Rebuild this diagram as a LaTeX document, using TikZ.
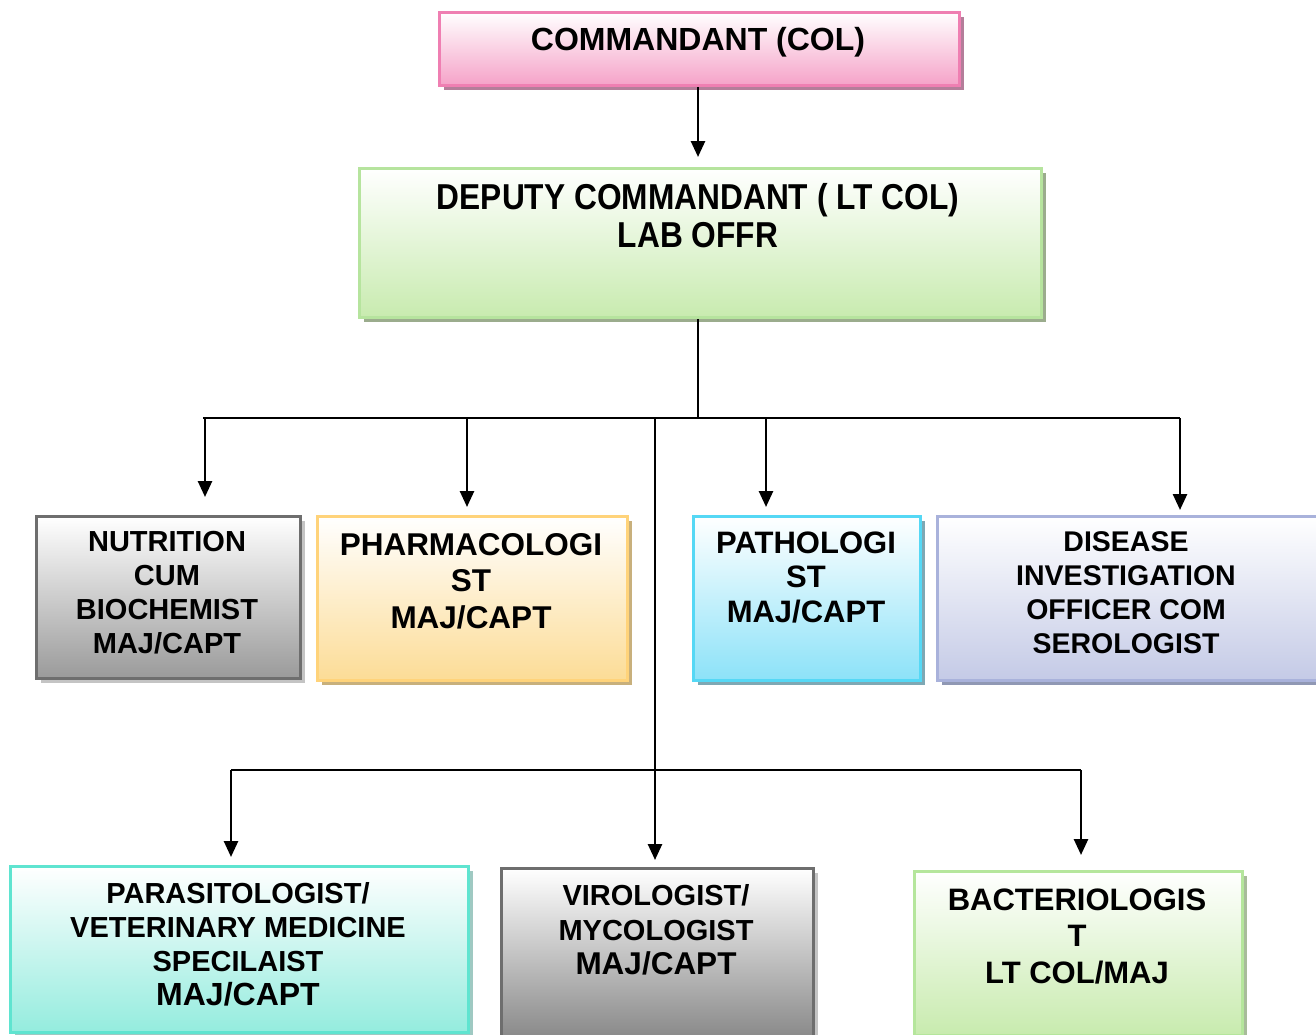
\documentclass[tikz,border=0pt]{standalone}
\usepackage{fontspec}
\setmainfont{Liberation Sans}
\newfontfamily\condfont{Liberation Sans}[FakeStretch=0.88]
\usetikzlibrary{arrows.meta,shadows}

\tikzset{
  orgbox/.style n args={3}{draw=#1, line width=2.8pt, top color=white, bottom color=#2,
    drop shadow={shadow xshift=4.5pt, shadow yshift=-4.5pt, fill=#3, opacity=1},
    inner sep=0pt, anchor=north west},
  lbl/.style={align=center, inner sep=0pt},
  conn/.style={line width=2pt, black},
  arr/.style={line width=2.6pt, black, -{Triangle[length=16pt,width=14pt]}},
}
\definecolor{cmdB}{HTML}{EF7FB2}\definecolor{cmdF}{HTML}{F5A2C8}\definecolor{cmdS}{HTML}{B47E9A}
\definecolor{depB}{HTML}{B6E49E}\definecolor{depF}{HTML}{C8EBAF}\definecolor{depS}{HTML}{9BAC8D}
\definecolor{nutB}{HTML}{6E6E6E}\definecolor{nutF}{HTML}{9A9A9A}\definecolor{nutS}{HTML}{C4C4C4}
\definecolor{phaB}{HTML}{FFD37A}\definecolor{phaF}{HTML}{FCDC96}\definecolor{phaS}{HTML}{C8B07C}
\definecolor{patB}{HTML}{55D8F5}\definecolor{patF}{HTML}{8CE2F8}\definecolor{patS}{HTML}{7EA8B4}
\definecolor{disB}{HTML}{A9B2DB}\definecolor{disF}{HTML}{C4CAE6}\definecolor{disS}{HTML}{9098B4}
\definecolor{parB}{HTML}{5FE4D0}\definecolor{parF}{HTML}{94ECDE}\definecolor{parS}{HTML}{9FC9C2}
\definecolor{virB}{HTML}{6E6E6E}\definecolor{virF}{HTML}{8A8A8A}\definecolor{virS}{HTML}{C4C4C4}
\definecolor{bacB}{HTML}{B5E69C}\definecolor{bacF}{HTML}{C8EBAE}\definecolor{bacS}{HTML}{A8BC9A}

\begin{document}
\begin{tikzpicture}[x=1pt,y=-1pt]
\useasboundingbox[fill=white] (0,0) rectangle (1316,1034);

% boxes
\node[orgbox={cmdB}{cmdF}{cmdS}, minimum width=520pt, minimum height=73pt] (cmd) at (438,11) {};
\node[orgbox={depB}{depF}{depS}, minimum width=682pt, minimum height=149pt] (dep) at (358,167) {};
\node[orgbox={nutB}{nutF}{nutS}, minimum width=264pt, minimum height=162pt] (nut) at (35,515) {};
\node[orgbox={phaB}{phaF}{phaS}, minimum width=310pt, minimum height=164pt] (pha) at (316,515) {};
\node[orgbox={patB}{patF}{patS}, minimum width=227pt, minimum height=164pt] (pat) at (692,515) {};
\node[orgbox={disB}{disF}{disS}, minimum width=384pt, minimum height=164pt] (dis) at (936,515) {};
\node[orgbox={parB}{parF}{parS}, minimum width=458pt, minimum height=166pt] (par) at (9,865) {};
\node[orgbox={virB}{virF}{virS}, minimum width=312pt, minimum height=168pt] (vir) at (500,867) {};
\node[orgbox={bacB}{bacF}{bacS}, minimum width=328pt, minimum height=164pt] (bac) at (913,870) {};

% labels
\node[lbl, font=\bfseries\fontsize{32}{38}\selectfont] (cmdT) at (698,42) {COMMANDANT (COL)};
\node[lbl, font=\condfont\bfseries\fontsize{36}{38}\selectfont] (depT) at (698,216) {DEPUTY COMMANDANT ( LT COL)\\LAB OFFR};
\node[lbl, font=\bfseries\fontsize{29}{34}\selectfont] (nutT) at (167,593) {NUTRITION\\CUM\\BIOCHEMIST\\MAJ/CAPT};
\node[lbl, font=\bfseries\fontsize{31.5}{36.5}\selectfont] (phaT) at (471,581) {PHARMACOLOGI\\ST\\MAJ/CAPT};
\node[lbl, font=\bfseries\fontsize{31}{34.5}\selectfont] (patT) at (806,577) {PATHOLOGI\\ST\\MAJ/CAPT};
\node[lbl, font=\bfseries\fontsize{28.5}{34}\selectfont] (disT) at (1126,593) {DISEASE\\INVESTIGATION\\OFFICER COM\\SEROLOGIST};
\node[lbl, font=\bfseries\fontsize{29}{34}\selectfont] (parT) at (238,944) {PARASITOLOGIST/\\VETERINARY MEDICINE\\SPECILAIST\\{\fontsize{32}{34}\selectfont MAJ/CAPT}};
\node[lbl, font=\bfseries\fontsize{29}{34.5}\selectfont] (virT) at (656,930) {VIROLOGIST/\\MYCOLOGIST\\{\fontsize{31.5}{34.5}\selectfont MAJ/CAPT}};
\node[lbl, font=\bfseries\fontsize{31}{36.5}\selectfont] (bacT) at (1077,936) {BACTERIOLOGIS\\T\\LT COL/MAJ};

% junction points of the connector tree
\coordinate (j0) at (698,418);
\coordinate (hL) at (203,418);
\coordinate (hR) at (1180,418);
\coordinate (a1) at (205,418);
\coordinate (a2) at (467,418);
\coordinate (a3) at (766,418);
\coordinate (a4) at (1180,418);
\coordinate (v1) at (655,418);
\coordinate (lL) at (231,770);
\coordinate (lR) at (1081,770);

% connectors
\draw[arr, shorten >=10pt] (cmd.south -| j0) -- (dep.north -| j0);
\draw[conn] (dep.south -| j0) -- (j0);
\draw[conn] (hL) -- (hR);
\draw[arr, shorten >=18pt] (a1) -- (a1 |- nut.north);
\draw[arr, shorten >=8pt] (a2) -- (a2 |- pha.north);
\draw[arr, shorten >=8pt] (a3) -- (a3 |- pat.north);
\draw[arr, shorten >=5pt] (a4) -- (a4 |- dis.north);
\draw[conn] (v1) -- (v1 |- lL);
\draw[arr, shorten >=7pt] (v1 |- lL) -- (v1 |- vir.north);
\draw[conn] (lL) -- (lR);
\draw[arr, shorten >=8pt] (lL) -- (lL |- par.north);
\draw[arr, shorten >=15pt] (lR) -- (lR |- bac.north);
\end{tikzpicture}
\end{document}
